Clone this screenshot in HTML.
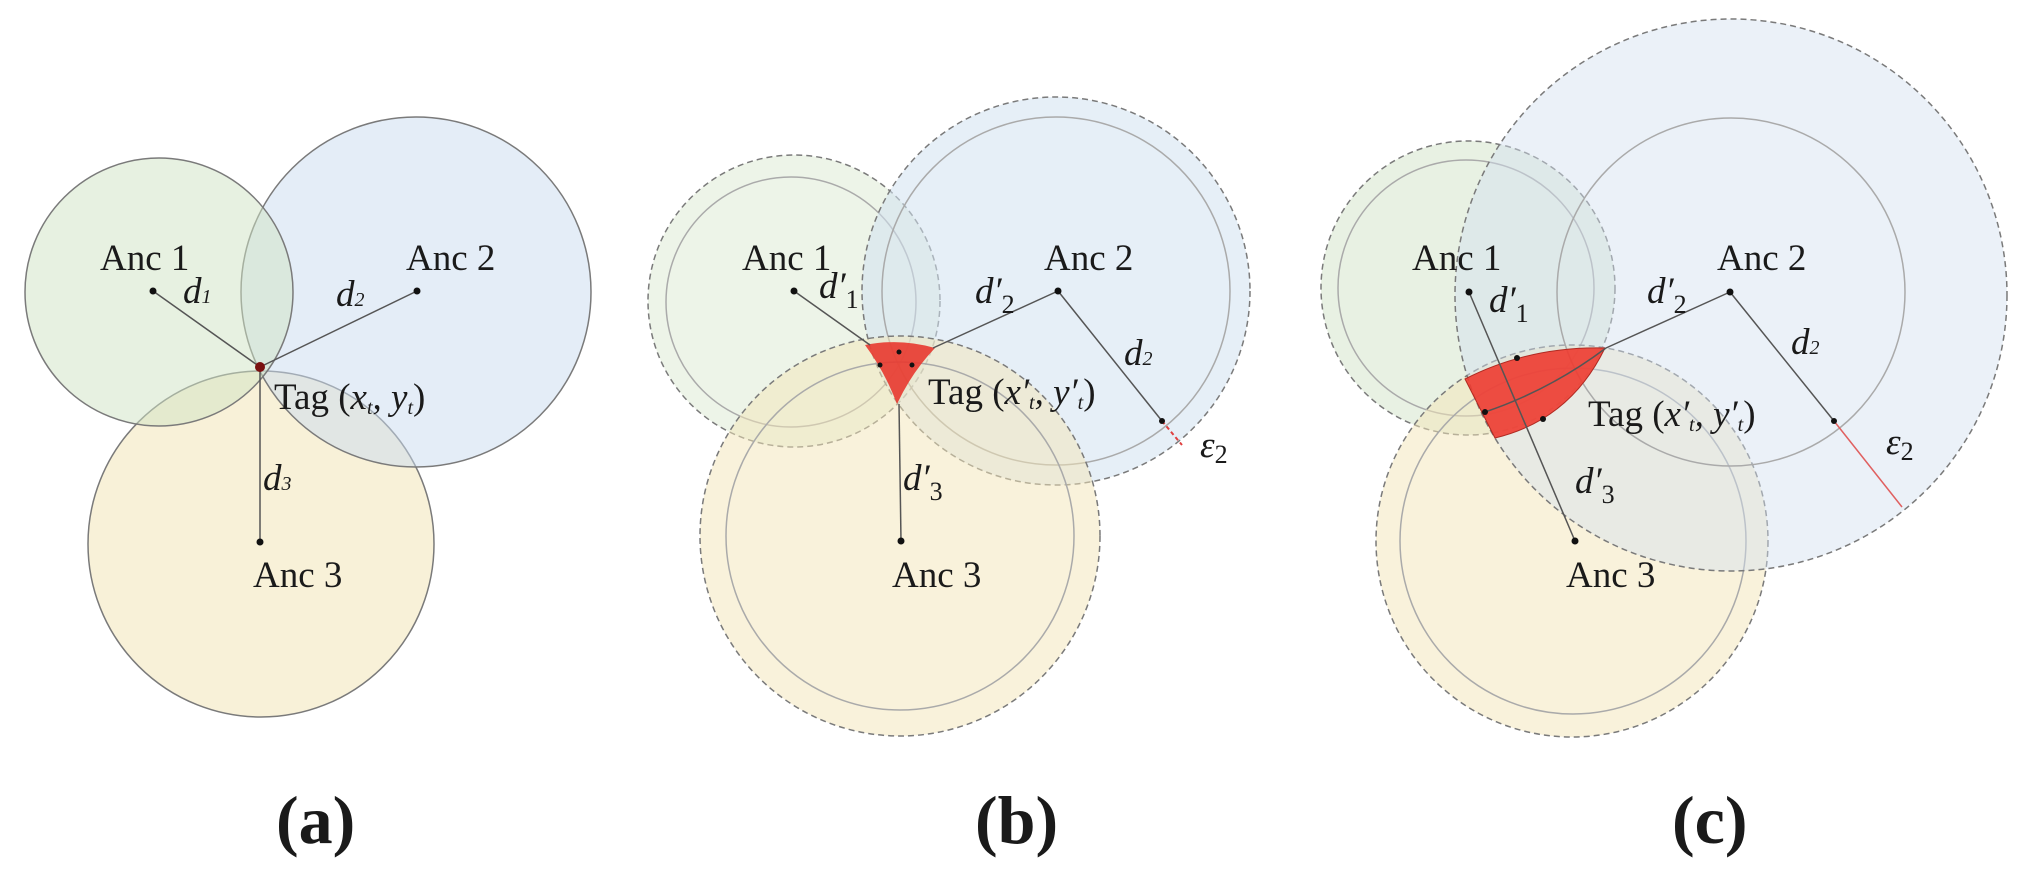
<!DOCTYPE html>
<html><head><meta charset="utf-8"><style>
html,body{margin:0;padding:0;background:#fff;}
svg{display:block;}
text{font-family:"Liberation Serif",serif;fill:#1a1a1a;}
.lab{font-size:37px;}
.it{font-size:37px;font-style:italic;}
.cap{font-size:68px;font-weight:bold;}
</style></head><body>
<svg width="2027" height="873" viewBox="0 0 2027 873" xmlns="http://www.w3.org/2000/svg">
<g stroke="#7a7a7a" stroke-width="1.5">
<!-- (a) -->
<circle cx="261" cy="544" r="173" fill="#f3e6b8" fill-opacity="0.55"/>
<circle cx="416" cy="292" r="175" fill="#c9dcef" fill-opacity="0.5"/>
<circle cx="159" cy="292" r="134" fill="#cfe3c4" fill-opacity="0.5"/>
<!-- (b) -->
<circle cx="794" cy="301" r="146" fill="#d6e6cc" fill-opacity="0.45" stroke-dasharray="6,4"/>
<circle cx="791" cy="302" r="125" fill="none" stroke="#aaa"/>
<circle cx="1056" cy="291" r="194" fill="#d2e1f0" fill-opacity="0.55" stroke-dasharray="6,4"/>
<circle cx="1056" cy="291" r="174" fill="none" stroke="#aaa"/>
<circle cx="900" cy="536" r="200" fill="#f3e6b8" fill-opacity="0.5" stroke-dasharray="6,4"/>
<circle cx="900" cy="536" r="174" fill="none" stroke="#aaa"/>
<!-- (c) -->
<circle cx="1468" cy="288" r="147" fill="#d6e6cc" fill-opacity="0.55" stroke-dasharray="6,4"/>
<circle cx="1466" cy="288" r="128" fill="none" stroke="#aaa"/>
<circle cx="1572" cy="541" r="196" fill="#f3e6b8" fill-opacity="0.5" stroke-dasharray="6,4"/>
<circle cx="1573" cy="541" r="173" fill="none" stroke="#aaa"/>
<circle cx="1731" cy="295" r="276" fill="#d2e1f0" fill-opacity="0.45" stroke-dasharray="6,4"/>
<circle cx="1731" cy="292" r="174" fill="none" stroke="#aaa"/>
</g>
<!-- red regions -->
<path d="M865,345 Q900,338 935,348 Q912,372 897,404 Q885,372 865,345Z" fill="#e8392f" fill-opacity="0.9"/>
<path d="M1465,379 Q1530,346 1605,348 Q1570,420 1495,438 Z" fill="#ee3b30" fill-opacity="0.9" stroke="#b02a22" stroke-width="1"/>
<g stroke="#555" stroke-width="1.5" fill="none">
<line x1="153" y1="291" x2="260" y2="367"/><line x1="417" y1="291" x2="260" y2="367"/><line x1="260" y1="367" x2="260" y2="542"/>
<line x1="794" y1="291" x2="870" y2="345"/><line x1="1058" y1="291" x2="933" y2="348"/><line x1="899" y1="404" x2="901" y2="541"/>
<line x1="1058" y1="291" x2="1162" y2="421"/>
<line x1="1469" y1="292" x2="1575" y2="541"/><line x1="1730" y1="292" x2="1606" y2="348"/>
<path d="M1485,412 Q1550,390 1606,348"/>
<line x1="1730" y1="292" x2="1834" y2="421"/>
</g>
<line x1="1162" y1="421" x2="1182" y2="445" stroke="#e04040" stroke-width="2" stroke-dasharray="4,3"/>
<line x1="1834" y1="421" x2="1902" y2="507" stroke="#e06060" stroke-width="1.5"/>
<g fill="#111">
<circle cx="153" cy="291" r="3.5"/><circle cx="417" cy="291" r="3.5"/><circle cx="260" cy="542" r="3.5"/><circle cx="260" cy="367" r="5" fill="#7a1010"/>
<circle cx="794" cy="291" r="3.5"/><circle cx="1058" cy="291" r="3.5"/><circle cx="901" cy="541" r="3.5"/><circle cx="1162" cy="421" r="3"/>
<circle cx="899" cy="352" r="2.5"/><circle cx="880" cy="365" r="2.5"/><circle cx="912" cy="365" r="2.5"/>
<circle cx="1469" cy="292" r="3.5"/><circle cx="1730" cy="292" r="3.5"/><circle cx="1575" cy="541" r="3.5"/><circle cx="1834" cy="421" r="3"/>
<circle cx="1517" cy="358" r="3"/><circle cx="1485" cy="412" r="3"/><circle cx="1543" cy="419" r="3"/>
</g>
<!-- (a) labels -->
<text class="lab" x="100" y="270">Anc 1</text>
<text class="lab" x="406" y="270">Anc 2</text>
<text class="lab" x="253" y="587">Anc 3</text>
<text class="it" x="183" y="303" font-size="32">d<tspan font-size="20">1</tspan></text>
<text class="it" x="336" y="306" font-size="32">d<tspan font-size="20">2</tspan></text>
<text class="it" x="263" y="490" font-size="32">d<tspan font-size="20">3</tspan></text>
<text class="lab" x="274" y="409" font-size="30">Tag (<tspan font-style="italic">x<tspan font-size="20" dy="5">t</tspan><tspan dy="-5">, y</tspan><tspan font-size="20" dy="5">t</tspan></tspan><tspan dy="-5">)</tspan></text>
<text class="cap" x="276" y="843">(a)</text>
<!-- (b) labels -->
<text class="lab" x="742" y="270">Anc 1</text>
<text class="lab" x="1044" y="270">Anc 2</text>
<text class="lab" x="892" y="587">Anc 3</text>
<text class="it" x="819" y="298">d′<tspan font-style="normal" font-size="26" dy="10">1</tspan></text>
<text class="it" x="975" y="303">d′<tspan font-style="normal" font-size="26" dy="10">2</tspan></text>
<text class="it" x="903" y="490">d′<tspan font-style="normal" font-size="26" dy="10">3</tspan></text>
<text class="it" x="1124" y="365" font-size="32">d<tspan font-size="20">2</tspan></text>
<text class="it" x="1200" y="457">ε<tspan font-style="normal" font-size="26" dy="6">2</tspan></text>
<text class="lab" x="928" y="404" font-size="30">Tag (<tspan font-style="italic">x′<tspan font-size="20" dy="5">t</tspan><tspan dy="-5">, y′</tspan><tspan font-size="20" dy="5">t</tspan></tspan><tspan dy="-5">)</tspan></text>
<text class="cap" x="975" y="843">(b)</text>
<!-- (c) labels -->
<text class="lab" x="1412" y="270">Anc 1</text>
<text class="lab" x="1717" y="270">Anc 2</text>
<text class="lab" x="1566" y="587">Anc 3</text>
<text class="it" x="1489" y="312">d′<tspan font-style="normal" font-size="26" dy="10">1</tspan></text>
<text class="it" x="1647" y="303">d′<tspan font-style="normal" font-size="26" dy="10">2</tspan></text>
<text class="it" x="1575" y="493">d′<tspan font-style="normal" font-size="26" dy="10">3</tspan></text>
<text class="it" x="1791" y="354" font-size="32">d<tspan font-size="20">2</tspan></text>
<text class="it" x="1886" y="454">ε<tspan font-style="normal" font-size="26" dy="6">2</tspan></text>
<text class="lab" x="1588" y="426" font-size="30">Tag (<tspan font-style="italic">x′<tspan font-size="20" dy="5">t</tspan><tspan dy="-5">, y′</tspan><tspan font-size="20" dy="5">t</tspan></tspan><tspan dy="-5">)</tspan></text>
<text class="cap" x="1672" y="843">(c)</text>
</svg>
</body></html>
